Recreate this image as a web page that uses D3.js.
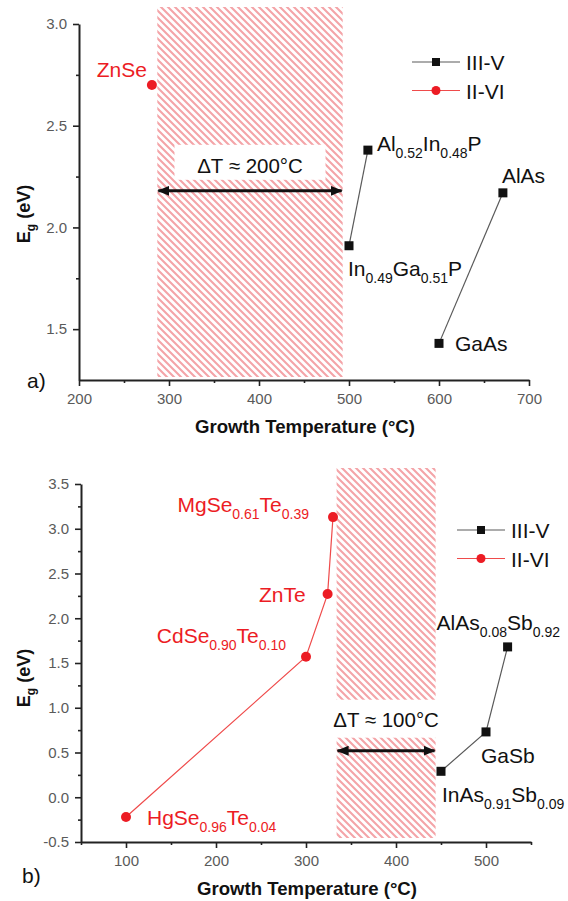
<!DOCTYPE html>
<html>
<head>
<meta charset="utf-8">
<script src="https://cdn.jsdelivr.net/npm/d3@7"></script>
<style>
  body { margin: 0; background: #fff; }
  svg { display: block; }
  text { font-family: "Liberation Sans", Arial, Helvetica, sans-serif; }
</style>
</head>
<body>
<svg id="chart" width="568" height="901"></svg>
<script>
// ---------- Data ----------
const seriesNames = ["III-V", "II-VI"];

// Panel (a): phosphides / arsenides vs. ZnSe
const topIIIV = [
  { name: "In_{0.49}Ga_{0.51}P", T: 500, Eg: 1.91, seg: "P" },
  { name: "Al_{0.52}In_{0.48}P", T: 521, Eg: 2.38, seg: "P" },
  { name: "GaAs", T: 600, Eg: 1.43, seg: "As" },
  { name: "AlAs", T: 671, Eg: 2.17, seg: "As" }
];
const topIIVI = [
  { name: "ZnSe", T: 281, Eg: 2.70, seg: "Se" }
];
const topWindow = { from: 287, to: 493, arrowEg: 2.18, label: "ΔT ≈ 200°C" };
const topXTicks = [200, 300, 400, 500, 600, 700];
const topXMinor = [250, 350, 450, 550, 650];
const topYTicks = [1.5, 2.0, 2.5, 3.0];
const topYMinor = [1.75, 2.25, 2.75];

// Panel (b): antimonides vs. tellurides
const bottomIIIV = [
  { name: "InAs_{0.91}Sb_{0.09}", T: 450, Eg: 0.29, seg: "Sb" },
  { name: "GaSb", T: 500, Eg: 0.73, seg: "Sb" },
  { name: "AlAs_{0.08}Sb_{0.92}", T: 524, Eg: 1.68, seg: "Sb" }
];
const bottomIIVI = [
  { name: "HgSe_{0.96}Te_{0.04}", T: 100, Eg: -0.22, seg: "Te" },
  { name: "CdSe_{0.90}Te_{0.10}", T: 300, Eg: 1.57, seg: "Te" },
  { name: "ZnTe", T: 324, Eg: 2.27, seg: "Te" },
  { name: "MgSe_{0.61}Te_{0.39}", T: 330, Eg: 3.13, seg: "Te" }
];
const bottomWindow = { from: 334, to: 444, arrowEg: 0.52, label: "ΔT ≈ 100°C" };
const bottomXTicks = [100, 200, 300, 400, 500];
const bottomXMinor = [50, 150, 250, 350, 450, 550];
const bottomYTicks = [-0.5, 0.0, 0.5, 1.0, 1.5, 2.0, 2.5, 3.0, 3.5];
const bottomYMinor = [-0.25, 0.25, 0.75, 1.25, 1.75, 2.25, 2.75, 3.25];

// ---------- Layout ----------
const colors = {
  iiiv: "#111111", iiivLine: "#5a5a5a",
  iivi: "#ec1c24", iiviLine: "#ef4b4b",
  hatch: "#f4a4a8", axis: "#222222", tick: "#5a5a5a"
};

// label offsets from each marker: [dx, dy, anchor]
const labelOffsets = {
  "ZnSe": [-5, -8, "end"],
  "Al_{0.52}In_{0.48}P": [9, 1, "start"],
  "In_{0.49}Ga_{0.51}P": [-1, 30, "start"],
  "AlAs": [-1, -10, "start"],
  "GaAs": [16, 8, "start"],
  "MgSe_{0.61}Te_{0.39}": [-24, -5, "end"],
  "ZnTe": [-22, 8, "end"],
  "CdSe_{0.90}Te_{0.10}": [-20, -14, "end"],
  "HgSe_{0.96}Te_{0.04}": [21, 8, "start"],
  "AlAs_{0.08}Sb_{0.92}": [-71, -17, "start"],
  "GaSb": [-5, 31, "start"],
  "InAs_{0.91}Sb_{0.09}": [1, 31, "start"]
};

const panels = [
  {
    tag: "a)", tagPos: [27, 388],
    xRange: [79, 529], yRange: [380, 24],
    xDomain: [200, 700], yDomain: [1.25, 3.0],
    xTicks: topXTicks, xMinor: topXMinor, yTicks: topYTicks, yMinor: topYMinor,
    iiiv: topIIIV, iivi: topIIVI, win: topWindow,
    hatchTop: 7, hatchBottom: 377,
    labelAbove: 18, boxTop: 28, boxBottom: 7, boxWidth: 151,
    legend: [412, 62], xTitleY: 433, yTitle: [30, 214]
  },
  {
    tag: "b)", tagPos: [22, 883],
    xRange: [81, 531], yRange: [842, 484],
    xDomain: [50, 550], yDomain: [-0.5, 3.5],
    xTicks: bottomXTicks, xMinor: bottomXMinor, yTicks: bottomYTicks, yMinor: bottomYMinor,
    iiiv: bottomIIIV, iivi: bottomIIVI, win: bottomWindow,
    hatchTop: 468, hatchBottom: 838,
    labelAbove: 24, boxTop: 27, boxBottom: 11, boxWidth: 151,
    legend: [457, 530], xTitleY: 895, yTitle: [30, 678]
  }
];

// ---------- Drawing ----------
const svg = d3.select("#chart");
svg.append("rect").attr("width", 568).attr("height", 901).attr("fill", "#fff");

const defs = svg.append("defs");
const pat = defs.append("pattern")
  .attr("id", "hatch").attr("patternUnits", "userSpaceOnUse")
  .attr("width", 7).attr("height", 7);
pat.append("path")
  .attr("d", "M-1,-1 L8,8 M-1,6 L1,8 M6,-1 L8,1")
  .attr("stroke", colors.hatch).attr("stroke-width", 2.1).attr("fill", "none");

defs.append("marker")
  .attr("id", "arrowhead").attr("viewBox", "0 0 12 10")
  .attr("refX", 11).attr("refY", 5)
  .attr("markerWidth", 12).attr("markerHeight", 10)
  .attr("markerUnits", "userSpaceOnUse")
  .attr("orient", "auto-start-reverse")
  .append("path").attr("d", "M0,0 L12,5 L0,10 z").attr("fill", "#111");

// Writes a chemical formula with subscripts into a <text> element
function writeFormula(textSel, name, mainSize, subSize, shift) {
  const parts = name.split(/_\{([^}]*)\}/);
  let cur = 0;
  parts.forEach((p, i) => {
    if (!p) return;
    const isSub = i % 2 === 1;
    const target = isSub ? shift : 0;
    textSel.append("tspan")
      .attr("dy", target - cur)
      .attr("font-size", isSub ? subSize : mainSize)
      .text(p);
    cur = target;
  });
}

panels.forEach(P => {
  const g = svg.append("g");
  const x = d3.scaleLinear().domain(P.xDomain).range(P.xRange);
  const y = d3.scaleLinear().domain(P.yDomain).range(P.yRange);

  // growth-temperature window (hatched)
  const hx0 = x(P.win.from), hx1 = x(P.win.to);
  g.append("rect")
    .attr("x", hx0).attr("y", P.hatchTop)
    .attr("width", hx1 - hx0).attr("height", P.hatchBottom - P.hatchTop)
    .attr("fill", "url(#hatch)");

  // ΔT annotation
  const ay = y(P.win.arrowEg);
  const ly = ay - P.labelAbove;
  const cx = (hx0 + hx1) / 2;
  g.append("rect")
    .attr("x", cx - P.boxWidth / 2).attr("y", ly - P.boxTop)
    .attr("width", P.boxWidth).attr("height", P.boxTop + P.boxBottom)
    .attr("fill", "#fff");
  g.append("text")
    .attr("x", cx).attr("y", ly)
    .attr("text-anchor", "middle").attr("font-size", 20.5).attr("fill", "#111")
    .text(P.win.label);
  g.append("line")
    .attr("x1", hx0 + 1).attr("x2", hx1 - 1).attr("y1", ay).attr("y2", ay)
    .attr("stroke", "#111").attr("stroke-width", 3)
    .attr("marker-start", "url(#arrowhead)").attr("marker-end", "url(#arrowhead)");

  // axes
  const styleAxis = sel => {
    sel.select(".domain").attr("stroke", colors.axis).attr("stroke-width", 2);
    sel.selectAll(".tick line").attr("stroke", colors.axis).attr("stroke-width", 1.6);
    sel.selectAll(".tick text").attr("fill", colors.tick).attr("font-size", 15)
      .attr("font-family", "'Liberation Sans', Arial, sans-serif");
  };
  const fmt = d => d.toFixed(1);
  const xAxisY = P.yRange[0];
  const yAxisX = P.xRange[0];

  g.append("g").attr("transform", `translate(0,${xAxisY})`)
    .call(d3.axisBottom(x).tickValues(P.xMinor).tickSize(3).tickSizeOuter(0).tickFormat(""))
    .call(s => s.select(".domain").remove())
    .call(styleAxis);
  g.append("g").attr("transform", `translate(${yAxisX},0)`)
    .call(d3.axisLeft(y).tickValues(P.yMinor).tickSize(3).tickSizeOuter(0).tickFormat(""))
    .call(s => s.select(".domain").remove())
    .call(styleAxis);
  g.append("g").attr("transform", `translate(0,${xAxisY})`)
    .call(d3.axisBottom(x).tickValues(P.xTicks).tickSize(6).tickSizeOuter(0).tickPadding(7))
    .call(styleAxis);
  g.append("g").attr("transform", `translate(${yAxisX},0)`)
    .call(d3.axisLeft(y).tickValues(P.yTicks).tickSize(6).tickSizeOuter(0).tickPadding(6).tickFormat(fmt))
    .call(styleAxis);

  // axis titles
  g.append("text")
    .attr("x", (P.xRange[0] + P.xRange[1]) / 2 + 1).attr("y", P.xTitleY)
    .attr("text-anchor", "middle").attr("font-weight", "bold").attr("font-size", 18.6)
    .attr("fill", "#111").text("Growth Temperature (°C)");
  const yt = g.append("text")
    .attr("transform", `translate(${P.yTitle[0]},${P.yTitle[1]}) rotate(-90)`)
    .attr("text-anchor", "middle").attr("font-weight", "bold").attr("fill", "#111");
  writeFormula(yt, "E_{g} (eV)", 18, 12, 5);

  // panel tag
  g.append("text").attr("x", P.tagPos[0]).attr("y", P.tagPos[1])
    .attr("font-size", 21).attr("fill", "#111").text(P.tag);

  // series
  const line = d3.line().x(d => x(d.T)).y(d => y(d.Eg));
  const drawSeries = (data, stroke, lineColor, shape) => {
    d3.groups(data, d => d.seg).forEach(([, pts]) => {
      if (pts.length > 1) {
        g.append("path").datum(pts).attr("d", line)
          .attr("fill", "none").attr("stroke", lineColor).attr("stroke-width", 1.2);
      }
    });
    if (shape === "square") {
      g.selectAll(null).data(data).join("rect")
        .attr("x", d => x(d.T) - 4.5).attr("y", d => y(d.Eg) - 4.5)
        .attr("width", 9).attr("height", 9).attr("fill", stroke);
    } else {
      g.selectAll(null).data(data).join("circle")
        .attr("cx", d => x(d.T)).attr("cy", d => y(d.Eg)).attr("r", 5)
        .attr("fill", stroke);
    }
    data.forEach(d => {
      const [dx, dy, anchor] = labelOffsets[d.name];
      const t = g.append("text")
        .attr("x", x(d.T) + dx).attr("y", y(d.Eg) + dy)
        .attr("text-anchor", anchor).attr("fill", stroke);
      writeFormula(t, d.name, 21, 14, 7);
    });
  };
  drawSeries(P.iiiv, colors.iiiv, colors.iiivLine, "square");
  drawSeries(P.iivi, colors.iivi, colors.iiviLine, "circle");

  // legend
  const [lx, ly0] = P.legend;
  const legendRows = [
    { name: seriesNames[0], color: colors.iiiv, lineColor: colors.iiivLine, shape: "square" },
    { name: seriesNames[1], color: colors.iivi, lineColor: colors.iiviLine, shape: "circle" }
  ];
  legendRows.forEach((r, i) => {
    const ry = ly0 + i * 28.5;
    g.append("line").attr("x1", lx).attr("x2", lx + 48).attr("y1", ry).attr("y2", ry)
      .attr("stroke", r.lineColor).attr("stroke-width", 1.2);
    if (r.shape === "square") {
      g.append("rect").attr("x", lx + 24 - 4).attr("y", ry - 4).attr("width", 8).attr("height", 8)
        .attr("fill", r.color);
    } else {
      g.append("circle").attr("cx", lx + 24).attr("cy", ry).attr("r", 4.5).attr("fill", r.color);
    }
    g.append("text").attr("x", lx + 54).attr("y", ry + 8)
      .attr("font-size", 21).attr("fill", "#111").text(r.name);
  });
});
</script>
</body>
</html>
